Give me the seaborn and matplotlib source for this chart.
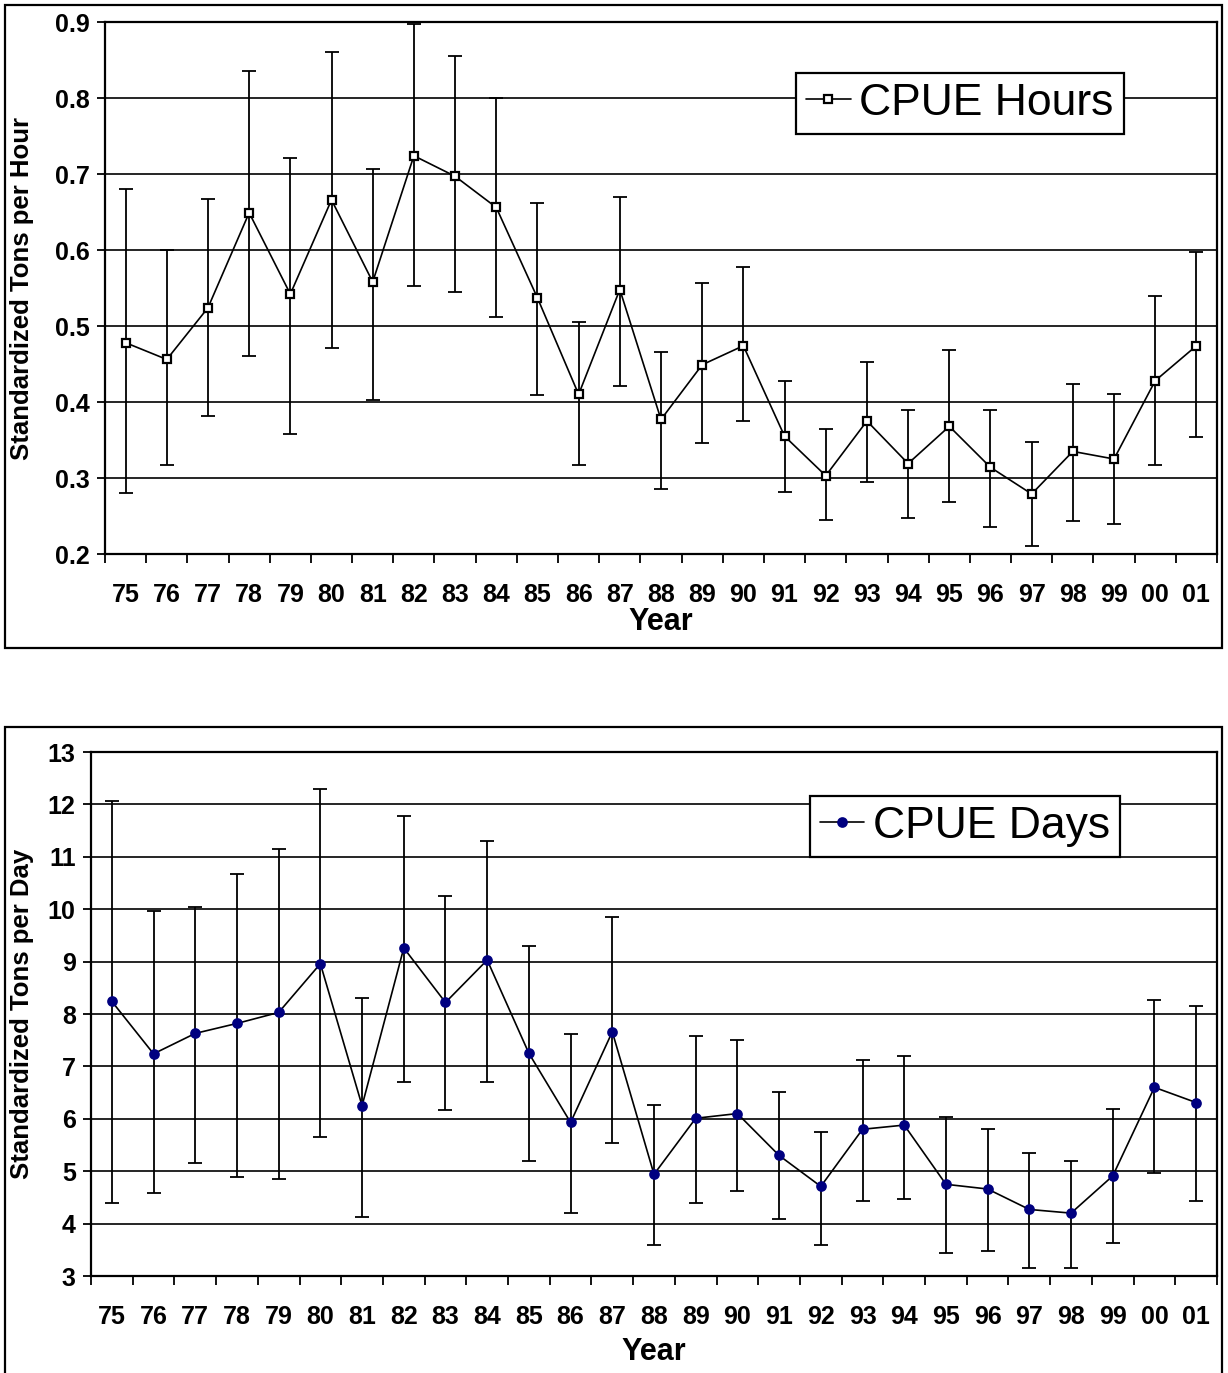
import numpy as np
import pandas as pd
import matplotlib
matplotlib.use('Agg')
import matplotlib.pyplot as plt
from matplotlib.patches import Rectangle
import seaborn as sns

# ---------------------------------------------------------------
# DATA
# ---------------------------------------------------------------
years = ['75', '76', '77', '78', '79', '80', '81', '82', '83', '84', '85', '86', '87',
         '88', '89', '90', '91', '92', '93', '94', '95', '96', '97', '98', '99', '00', '01']

hours_mean = [0.478, 0.456, 0.524, 0.649, 0.542, 0.666, 0.558, 0.724, 0.697, 0.656, 0.537, 0.410, 0.548,
              0.377, 0.449, 0.474, 0.355, 0.303, 0.375, 0.319, 0.368, 0.314, 0.279, 0.335, 0.325, 0.428, 0.474]
hours_low = [0.280, 0.317, 0.382, 0.461, 0.358, 0.471, 0.403, 0.553, 0.545, 0.512, 0.409, 0.317, 0.421,
             0.285, 0.346, 0.375, 0.282, 0.245, 0.295, 0.248, 0.269, 0.235, 0.211, 0.243, 0.240, 0.317, 0.354]
hours_high = [0.680, 0.600, 0.667, 0.835, 0.721, 0.861, 0.706, 0.898, 0.855, 0.800, 0.662, 0.505, 0.670,
              0.466, 0.556, 0.577, 0.427, 0.364, 0.453, 0.390, 0.469, 0.390, 0.348, 0.424, 0.411, 0.540, 0.598]

days_mean = [8.24, 7.24, 7.63, 7.82, 8.03, 8.96, 6.25, 9.26, 8.22, 9.03, 7.25, 5.93, 7.66,
             4.94, 6.01, 6.10, 5.30, 4.71, 5.80, 5.88, 4.75, 4.66, 4.27, 4.20, 4.91, 6.60, 6.31]
days_low = [4.39, 4.58, 5.15, 4.89, 4.85, 5.66, 4.13, 6.71, 6.16, 6.71, 5.20, 4.20, 5.54,
            3.59, 4.40, 4.62, 4.09, 3.59, 4.43, 4.47, 3.43, 3.47, 3.16, 3.16, 3.63, 4.97, 4.43]
days_high = [12.07, 9.97, 10.04, 10.67, 11.15, 12.29, 8.31, 11.78, 10.26, 11.30, 9.30, 7.62, 9.85,
             6.26, 7.58, 7.50, 6.52, 5.75, 7.12, 7.20, 6.03, 5.81, 5.34, 5.19, 6.19, 8.27, 8.15]

# ---------------------------------------------------------------
# STYLE
# ---------------------------------------------------------------
sns.set_theme(style='white')
plt.rcParams['font.family'] = ['Liberation Sans', 'DejaVu Sans']
plt.rcParams['axes.edgecolor'] = 'black'
plt.rcParams['text.color'] = 'black'
plt.rcParams['axes.labelcolor'] = 'black'
plt.rcParams['xtick.color'] = 'black'
plt.rcParams['ytick.color'] = 'black'

W, H = 1228, 1373
fig = plt.figure(figsize=(W / 100, H / 100), dpi=100)


def px_axes(left, top, right, bottom):
    return fig.add_axes([left / W, (H - bottom) / H, (right - left) / W, (bottom - top) / H])


def frame_box(left, top, right, bottom):
    fig.add_artist(Rectangle((left / W, (H - bottom) / H), (right - left) / W, (bottom - top) / H,
                             transform=fig.transFigure, fill=False, edgecolor='black', linewidth=1.6))


def draw_panel(ax, mean, low, high, ylim, yticks, ylabel, label, marker, mcolor, mface, msize, mew,
               leg_anchor, ylabel_x, xlabel_y):
    df = pd.DataFrame({'pos': np.arange(len(years)), 'mean': mean, 'low': low, 'high': high})
    df['err_lo'] = df['mean'] - df['low']
    df['err_hi'] = df['high'] - df['mean']

    for v in yticks:
        ax.axhline(v, color='black', linewidth=1.2, zorder=0)

    ax.errorbar(df['pos'], df['mean'], yerr=[df['err_lo'], df['err_hi']], fmt='none',
                ecolor='black', elinewidth=1.3, capsize=4.8, capthick=1.3, zorder=2)
    sns.lineplot(data=df, x='pos', y='mean', ax=ax, color='black', linewidth=1.2,
                 marker=marker, markersize=msize, markerfacecolor=mface, markeredgecolor=mcolor,
                 markeredgewidth=mew, label=label, zorder=3)

    ax.set_xlim(-0.5, len(years) - 0.5)
    ax.set_ylim(*ylim)
    ax.set_yticks(yticks)
    ax.set_yticklabels([f'{v:g}' for v in yticks], fontsize=18, fontweight='bold')
    ax.tick_params(axis='y', direction='out', length=6, width=1.3, color='black', pad=5, left=True)

    ax.set_xticks(df['pos'])
    ax.set_xticklabels(years, fontsize=18, fontweight='bold')
    ax.set_xticks(np.arange(len(years) + 1) - 0.5, minor=True)
    ax.tick_params(axis='x', which='major', length=0, pad=21)
    ax.tick_params(axis='x', which='minor', direction='out', length=6.5, width=1.3,
                   color='black', bottom=True)

    for s in ax.spines.values():
        s.set_color('black')
        s.set_linewidth(1.6)

    ax.set_xlabel('Year', fontsize=22, fontweight='bold')
    ax.xaxis.set_label_coords(0.5, xlabel_y)
    ax.set_ylabel(ylabel, fontsize=18.5, fontweight='bold')
    ax.yaxis.set_label_coords(ylabel_x, 0.5)

    leg = ax.legend(loc='upper right', bbox_to_anchor=leg_anchor, fontsize=32, frameon=True,
                    fancybox=False, framealpha=1, edgecolor='black', handlelength=1.0,
                    handletextpad=0.2, borderpad=0.22, borderaxespad=0)
    leg.get_frame().set_linewidth(1.6)


# ---------------------------------------------------------------
# TOP PANEL: CPUE Hours
# ---------------------------------------------------------------
frame_box(5, 5, 1222, 648)
ax1 = px_axes(105, 22, 1217, 554)
draw_panel(ax1, hours_mean, hours_low, hours_high, (0.2, 0.9),
           [0.2, 0.3, 0.4, 0.5, 0.6, 0.7, 0.8, 0.9], 'Standardized Tons per Hour',
           'CPUE Hours', 's', 'black', 'white', 6, 1.6, (0.916, 0.904), -0.064, -0.1)

# ---------------------------------------------------------------
# BOTTOM PANEL: CPUE Days
# ---------------------------------------------------------------
frame_box(5, 727, 1222, 1380)
ax2 = px_axes(91, 752, 1217, 1276)
draw_panel(ax2, days_mean, days_low, days_high, (3, 13),
           list(range(3, 14)), 'Standardized Tons per Day',
           'CPUE Days', 'o', '#000080', '#000080', 6.5, 1.2, (0.914, 0.916), -0.051, -0.117)

plt.savefig('out.png', dpi=100)
